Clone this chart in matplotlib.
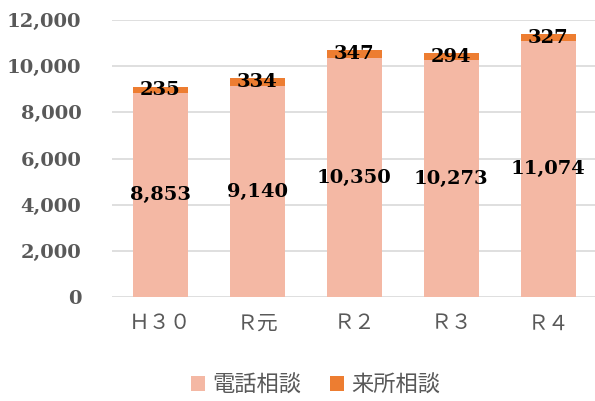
import numpy as np
import matplotlib.pyplot as plt

# %% data

years = ['Ｈ３０', 'Ｒ元', 'Ｒ２', 'Ｒ３', 'Ｒ４']
phone = [8853, 9140, 10350, 10273, 11074]
visit = [235, 334, 347, 294, 327]
labels = ['電話相談', '来所相談']

# %% plot

NUM_FONT = 'DejaVu Serif'
JP_FONT = ['Noto Sans CJK JP', 'DejaVu Sans']
GREY = '#595959'

fig = plt.figure(figsize=(5.95, 4.01), dpi=100)
ax = fig.add_axes([0.188, 0.259, 0.815, 0.691])

x = np.arange(len(years))
w = 0.57
b1 = ax.bar(x, phone, w, color='#F4B8A4', label=labels[0], zorder=2)
b2 = ax.bar(x, visit, w, bottom=phone, color='#ED7D31', label=labels[1], zorder=2)

for xi, p, v in zip(x, phone, visit):
    ax.text(xi, p / 2, f'{p:,}', ha='center', va='center', fontsize=14,
            fontweight='bold', family=NUM_FONT, color='black', zorder=3)
    ax.text(xi, p + v / 2, f'{v:,}', ha='center', va='center', fontsize=14,
            fontweight='bold', family=NUM_FONT, color='black', zorder=3)

ax.set_xlim(-0.5, len(years) - 0.5)
ax.set_ylim(0, 12000)
ax.set_yticks(np.arange(0, 12001, 2000))
ax.set_yticklabels([f'{t:,}' for t in range(0, 12001, 2000)],
                   family=NUM_FONT, fontweight='bold', fontsize=14, color=GREY)
ax.set_xticks(x)
ax.set_xticklabels(years, family=JP_FONT, fontsize=15, color=GREY)
ax.tick_params(length=0)
ax.tick_params(axis='y', pad=22)
ax.tick_params(axis='x', pad=11)
ax.yaxis.grid(True, color='#D9D9D9', linewidth=1.2, zorder=0)
for s in ax.spines.values():
    s.set_visible(False)

fig.legend(handles=[b1, b2], loc='center', bbox_to_anchor=(0.53, 0.04), ncol=2,
           frameon=False, prop={'family': JP_FONT, 'size': 16},
           handlelength=0.65, handleheight=0.65, handletextpad=0.3,
           columnspacing=1.3, labelcolor=GREY)

fig.savefig('out.png', dpi=100)
